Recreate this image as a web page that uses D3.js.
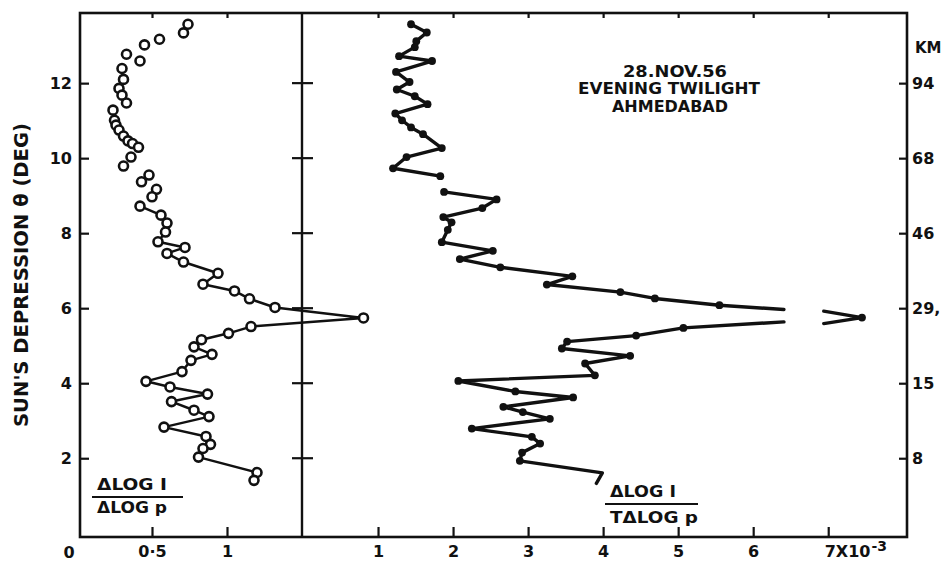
<!DOCTYPE html>
<html>
<head>
<meta charset="utf-8">
<script src="https://cdn.jsdelivr.net/npm/d3@7"></script>
<style>
body { margin: 0; background: #fff; }
text { font-family: "DejaVu Sans", sans-serif; font-weight: bold; fill: #111; }
</style>
</head>
<body>
<svg id="chart" width="949" height="565"></svg>
<script>
// values: [theta (deg), value]
// left panel, open circles, not joined
const leftFree = [[13.57,0.74],[13.34,0.71],[13.17,0.55],[13.02,0.45],[12.77,0.33],[12.59,0.42],
  [12.39,0.30],[12.10,0.31],[11.86,0.28],[11.68,0.30],[11.47,0.33],[11.28,0.24],[11.01,0.25],
  [10.88,0.26],[10.75,0.28],[10.59,0.31],[10.46,0.34],[10.39,0.37],[10.29,0.41],[10.03,0.36],
  [9.79,0.31],[9.55,0.48],[9.37,0.43],[9.17,0.53],[8.97,0.50]]
// left panel, joined part
const leftLine = [[8.72,0.42],[8.48,0.56],[8.27,0.60],[8.03,0.59],[7.77,0.54],[7.62,0.72],[7.46,0.60],
  [7.23,0.71],[6.93,0.94],[6.64,0.84],[6.46,1.05],[6.25,1.15],[6.02,1.32],[5.74,1.91],[5.51,1.16],
  [5.33,1.01],[5.16,0.83],[4.97,0.78],[4.77,0.90],[4.61,0.76],[4.31,0.70],[4.05,0.46],[3.90,0.62],
  [3.71,0.87],[3.51,0.63],[3.28,0.78],[3.11,0.88],[2.83,0.58],[2.58,0.86],[2.37,0.89],[2.26,0.84],
  [2.03,0.81],[1.62,1.20],[1.41,1.18]]

// right panel (x 10^-3), filled dots
const rightTop = [[13.57,1.44],[13.35,1.65],[13.12,1.51],[12.96,1.49],[12.72,1.28],[12.59,1.72],
  [12.30,1.24],[12.03,1.42],[11.83,1.25],[11.65,1.49],[11.44,1.66],[11.19,1.23],[11.01,1.32],
  [10.82,1.44],[10.64,1.60],[10.27,1.85],[10.03,1.38],[9.73,1.20],[9.52,1.83]]
const rightMid = [[9.10,1.88],[8.90,2.58],[8.67,2.39],[8.43,1.87],[8.29,1.98],[8.09,1.93],[7.76,1.85],
  [7.53,2.53],[7.31,2.09],[7.09,2.63],[6.85,3.59],[6.63,3.25],[6.43,4.23],[6.26,4.69],[6.08,5.55]]
const rightBreakUp = [[5.965,6.41]]
const rightPeak = [[5.92,6.94],[5.75,7.45],[5.59,6.94]]
const rightBreakLow = [[5.635,6.41]]
const rightLow = [[5.475,5.07],[5.27,4.44],[5.11,3.52],[4.925,3.45],[4.73,4.36],[4.525,3.76],
  [4.21,3.89],[4.06,2.07],[3.78,2.83],[3.62,3.60],[3.37,2.67],[3.23,2.93],[3.05,3.29],[2.79,2.25],
  [2.57,3.05],[2.39,3.16],[2.15,2.92],[1.93,2.89]]
const rightTail = [[1.61,3.99],[1.33,3.91]]

const degTicks = [2,4,6,8,10,12]
const kmLabels = ["8","15","29,","46","68","94"]
const leftXTicks = [0.5,1]
const leftXLabels = ["0·5","1"]
const rightXTicks = [1,2,3,4,5,6,7]
const titleLines = ["28.NOV.56","EVENING TWILIGHT","AHMEDABAD"]

const svg = d3.select("#chart")
const L = 80, R = 907, T = 13, B = 537, MID = 302

const y = d3.scaleLinear().domain([-0.1,13.87]).range([B,T])
const xL = d3.scaleLinear().domain([0,1.5]).range([77,MID])
const xR = d3.scaleLinear().domain([0,8.05]).range([303,R])

// frame
svg.append("rect").attr("x",L).attr("y",T).attr("width",R-L).attr("height",B-T)
  .attr("fill","none").attr("stroke","#111").attr("stroke-width",2.6)
svg.append("line").attr("x1",MID).attr("x2",MID).attr("y1",T).attr("y2",B)
  .attr("stroke","#111").attr("stroke-width",2.4)

function tidy(g){
  g.select(".domain").remove()
  g.selectAll("line").attr("stroke","#111").attr("stroke-width",2.2)
  g.selectAll("text").attr("font-size",16).attr("font-family",null).attr("fill","#111")
}

// left deg axis
svg.append("g").attr("transform",`translate(${L},0)`)
  .call(d3.axisLeft(y).tickValues(degTicks).tickSizeInner(-9).tickSizeOuter(0).tickPadding(8))
  .call(tidy)

// KM axis on the right
svg.append("g").attr("transform",`translate(${R},0)`)
  .call(d3.axisRight(y).tickValues(degTicks).tickSizeInner(-8).tickSizeOuter(0).tickPadding(5)
    .tickFormat((d,i) => kmLabels[i]))
  .call(tidy)
svg.append("text").attr("x",915).attr("y",53).attr("font-size",15).text("KM")

// crossing ticks on the divider
svg.append("g").selectAll("line").data(degTicks).enter().append("line")
  .attr("x1",MID-10).attr("x2",MID+11).attr("y1",d => y(d)).attr("y2",d => y(d))
  .attr("stroke","#111").attr("stroke-width",2.2)

// bottom axes
svg.append("g").attr("transform",`translate(0,${B})`)
  .call(d3.axisBottom(xL).tickValues(leftXTicks).tickSizeInner(-10).tickSizeOuter(0).tickPadding(9)
    .tickFormat((d,i) => leftXLabels[i]))
  .call(tidy)
svg.append("text").attr("x",xL(0)-8).attr("y",558).attr("font-size",16).attr("text-anchor","middle").text("0")

const rb = svg.append("g").attr("transform",`translate(0,${B})`)
  .call(d3.axisBottom(xR).tickValues(rightXTicks).tickSizeInner(-10).tickSizeOuter(0).tickPadding(9)
    .tickFormat(d => d == 7 ? "7X10" : d))
  .call(tidy)
rb.selectAll(".tick text").filter(d => d == 7).attr("text-anchor","start").attr("dx",-4)
  .append("tspan").attr("font-size",14).attr("dx",1).attr("dy","-0.45em").text("-3")

// top ticks
svg.append("g").attr("transform",`translate(0,${T})`)
  .call(d3.axisTop(xL).tickValues(leftXTicks).tickSizeInner(-5).tickSizeOuter(0).tickFormat(""))
  .call(tidy)
svg.append("g").attr("transform",`translate(0,${T})`)
  .call(d3.axisTop(xR).tickValues(rightXTicks).tickSizeInner(-5).tickSizeOuter(0).tickFormat(""))
  .call(tidy)

// y label
svg.append("text").attr("transform","translate(28,275) rotate(-90)")
  .attr("text-anchor","middle").attr("font-size",20)
  .attr("textLength",304).attr("lengthAdjust","spacingAndGlyphs")
  .text("SUN'S  DEPRESSION  θ  (DEG)")

// title block
const tb = [[675,77,104],[669,94,182],[670,112,116]]
svg.append("g").selectAll("text").data(titleLines).enter().append("text")
  .attr("x",(d,i) => tb[i][0]).attr("y",(d,i) => tb[i][1])
  .attr("text-anchor","middle").attr("font-size",15)
  .attr("textLength",(d,i) => tb[i][2]).attr("lengthAdjust","spacingAndGlyphs")
  .text(d => d)

// fraction labels
function fraction(x, top, bottom, w, wTop, wBot){
  const g = svg.append("g")
  g.append("text").attr("x",x+5).attr("y",top).attr("font-size",15)
    .attr("textLength",wTop).attr("lengthAdjust","spacingAndGlyphs").text("ΔLOG I")
  g.append("line").attr("x1",x).attr("x2",x+w).attr("y1",top+7).attr("y2",top+7)
    .attr("stroke","#111").attr("stroke-width",2.2)
  g.append("text").attr("x",x+5).attr("y",bottom).attr("font-size",15)
    .attr("textLength",wBot).attr("lengthAdjust","spacingAndGlyphs").text(x > 400 ? "TΔLOG p" : "ΔLOG p")
}
fraction(92,490,513,91,70,70)
fraction(605,497,523,93,66,88)

// curves
const lineL = d3.line().x(d => xL(d[1])).y(d => y(d[0]))
const lineR = d3.line().x(d => xR(d[1])).y(d => y(d[0]))

svg.append("path").datum(leftLine).attr("d",lineL)
  .attr("fill","none").attr("stroke","#111").attr("stroke-width",2.5).attr("stroke-linejoin","round")

const rightPaths = [rightTop, rightMid.concat(rightBreakUp), rightBreakLow.concat(rightLow, rightTail), rightPeak]
svg.append("g").selectAll("path").data(rightPaths).enter().append("path")
  .attr("d",lineR).attr("fill","none").attr("stroke","#111").attr("stroke-width",3.4)
  .attr("stroke-linejoin","round").attr("stroke-linecap","round")

svg.append("g").selectAll("circle").data(rightTop.concat(rightMid, rightLow, [rightPeak[1]])).enter()
  .append("circle").attr("cx",d => xR(d[1])).attr("cy",d => y(d[0])).attr("r",3.9).attr("fill","#111")

svg.append("g").selectAll("circle").data(leftFree.concat(leftLine)).enter()
  .append("circle").attr("cx",d => xL(d[1])).attr("cy",d => y(d[0])).attr("r",4.5)
  .attr("fill","#fff").attr("stroke","#111").attr("stroke-width",2.6)
</script>
</body>
</html>
